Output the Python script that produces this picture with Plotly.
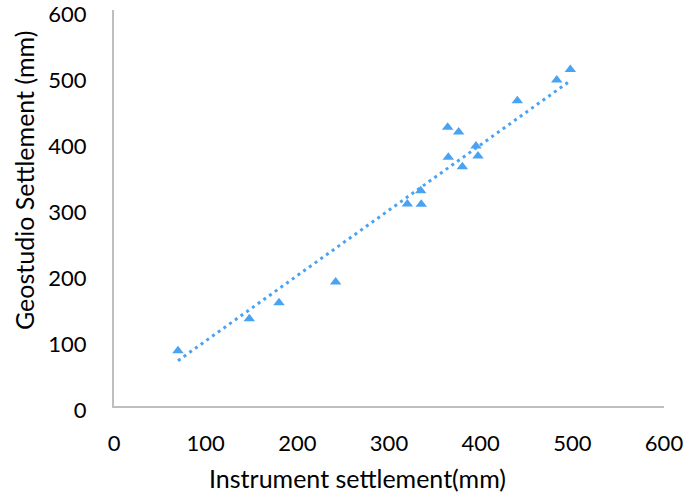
import plotly.graph_objects as go

instrument = [69.8, 147.6, 180.0, 241.8, 320.0, 334.6, 335.2, 364.0, 376.0,
              364.7, 380.0, 394.9, 397.1, 440.0, 483.0, 497.8]
geostudio = [83.8, 132.3, 156.5, 187.9, 306.0, 326.2, 305.6, 422.3, 415.2,
             376.8, 362.6, 393.9, 378.8, 462.6, 494.0, 510.0]
# linear trendline end points
trend_x = [69.8, 496.0]
trend_y = [68.6, 491.0]
tick_vals = [0, 100, 200, 300, 400, 500, 600]

color = "#4aa3f2"
font = "Lato, 'Open Sans', sans-serif"

fig = go.Figure()
fig.add_trace(go.Scatter(x=trend_x, y=trend_y, mode="lines",
                         line=dict(color=color, width=3, dash="3px,4px"),
                         showlegend=False, hoverinfo="skip"))
fig.add_trace(go.Scatter(x=instrument, y=geostudio, mode="markers",
                         marker=dict(symbol="triangle-up", size=10, color=color),
                         showlegend=False, cliponaxis=False))

axis_common = dict(range=[0, 600], tickvals=tick_vals, showgrid=False,
                   zeroline=False, showline=True, linecolor="#bfbfbf",
                   linewidth=2, ticks="", automargin=False,
                   ticklabeloverflow="allow",
                   tickfont=dict(family=font, size=22, color="#000"))
fig.update_layout(
    width=685, height=496,
    margin=dict(l=114, r=21, t=10, b=90),
    plot_bgcolor="white", paper_bgcolor="white",
    xaxis=dict(**axis_common, ticklabelstandoff=17),
    yaxis=dict(**axis_common, ticklabelstandoff=21, ticklabelshift=4),
    annotations=[
        dict(text="Instrument settlement(mm)", xref="paper", yref="paper",
             x=(357 - 114) / 550, y=-(478 - 406) / 396, showarrow=False,
             xanchor="center", yanchor="middle",
             font=dict(family=font, size=25, color="#000")),
        dict(text="Geostudio Settlement (mm)", xref="paper", yref="paper",
             x=-(114 - 24) / 550, y=(406 - 181) / 396, showarrow=False,
             textangle=-90, xanchor="center", yanchor="middle",
             font=dict(family=font, size=25, color="#000")),
    ],
)
fig.write_html("out.html", config={"displayModeBar": False},
               post_script="document.body.style.margin='0';")
